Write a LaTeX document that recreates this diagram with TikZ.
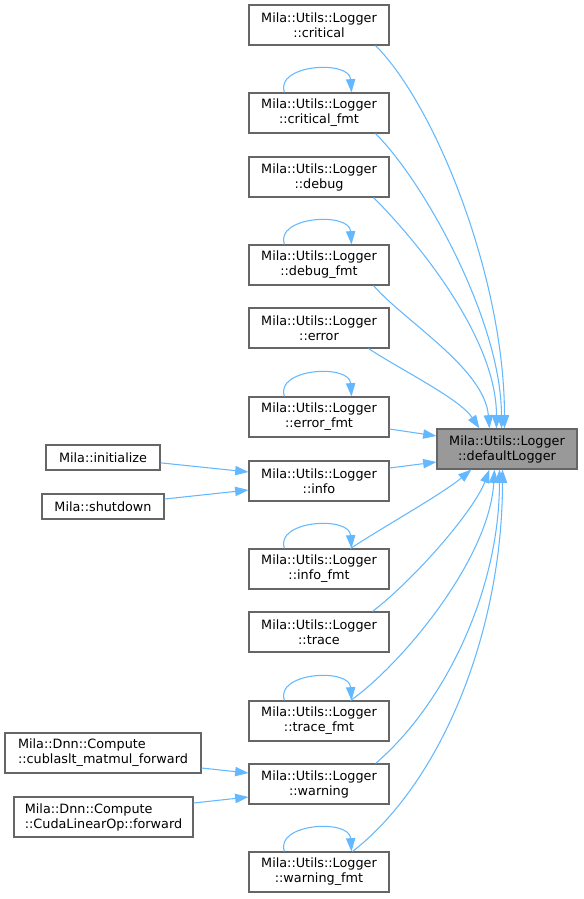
\documentclass[tikz,border=0pt]{standalone}
\usepackage{fontspec}
\setmainfont{DejaVu Sans}
\usetikzlibrary{arrows.meta}
\definecolor{edgeblue}{HTML}{63B8FF}
\definecolor{nodeborder}{HTML}{666666}
\definecolor{hlfill}{HTML}{999999}
\begin{document}
\begin{tikzpicture}[x=0.75pt,y=-0.75pt,
  box/.style={draw=nodeborder, fill=white, line width=0.8pt, inner sep=0pt, align=center,
    font=\fontsize{9.6}{11.25}\selectfont, text=black, minimum width=105pt, minimum height=30pt},
  hlbox/.style={box, fill=hlfill},
  leftbox/.style={box, align=left, minimum height=30pt},
  onebox/.style={box, minimum height=18.75pt},
  edge/.style={draw=edgeblue, line width=0.8pt, -{Triangle[length=10pt,width=7pt]}},
  selfloop/.style={edge}
]
\useasboundingbox (0,0) rectangle (583,899);

% right column
\node[box] (crit)   at (319,25)  {Mila::Utils::Logger\\::critical};
\node[box] (critf)  at (319,113) {Mila::Utils::Logger\\::critical\_fmt};
\node[box] (debug)  at (319,177) {Mila::Utils::Logger\\::debug};
\node[box] (debugf) at (319,265) {Mila::Utils::Logger\\::debug\_fmt};
\node[box] (err)    at (319,328) {Mila::Utils::Logger\\::error};
\node[box] (errf)   at (319,417) {Mila::Utils::Logger\\::error\_fmt};
\node[box] (info)   at (319,481) {Mila::Utils::Logger\\::info};
\node[box] (infof)  at (319,569) {Mila::Utils::Logger\\::info\_fmt};
\node[box] (trace)  at (319,632) {Mila::Utils::Logger\\::trace};
\node[box] (tracef) at (319,721) {Mila::Utils::Logger\\::trace\_fmt};
\node[box] (warn)   at (319,784) {Mila::Utils::Logger\\::warning};
\node[box] (warnf)  at (319,872) {Mila::Utils::Logger\\::warning\_fmt};

% target
\node[hlbox] (dl) at (507,449) {Mila::Utils::Logger\\::defaultLogger};

% left column
\node[onebox, minimum width=85.5pt] (init) at (103,457.5) {Mila::initialize};
\node[onebox, minimum width=91.5pt] (shut) at (103,506.5) {Mila::shutdown};
\node[leftbox, minimum width=147pt] (cubl) at (103,753) {Mila::Dnn::Compute\\::cublaslt\_matmul\_forward};
\node[leftbox, minimum width=134.25pt] (cuda) at (103.5,817) {Mila::Dnn::Compute\\::CudaLinearOp::forward};

% left edges
\draw[edge] ([yshift=-4pt]init.east) -- ([yshift=6.75pt]info.west);
\draw[edge] ([yshift=5.6pt]shut.east) -- ([yshift=-6.75pt]info.west);
\draw[edge] ([yshift=-11.25pt]cubl.east) -- ([yshift=8.25pt]warn.west);
\draw[edge] ([yshift=10.5pt]cuda.east) -- ([yshift=-9.75pt]warn.west);

% straight-ish edges to target
\draw[edge] ([yshift=-9pt]errf.east) -- ([yshift=9.75pt]dl.west);
\draw[edge] ([yshift=9.75pt]info.east) -- ([yshift=-9.75pt]dl.west);

% curved edges from above
\draw[edge] ([xshift=-10.5pt]crit.south east) .. controls +(60,60) and +(0,-150) .. ([xshift=51pt]dl.north west);
\draw[edge] ([xshift=-10.5pt]critf.south east) .. controls +(50,50) and +(0,-106) .. ([xshift=48.75pt]dl.north west);
\draw[edge] ([xshift=-12pt]debug.south east) .. controls +(45,45) and +(0,-90) .. ([xshift=45pt]dl.north west);
\draw[edge] ([xshift=-12pt]debugf.south east) .. controls +(30,35) and +(-5,-60) .. ([xshift=39.75pt]dl.north west);
\draw[edge] ([xshift=-15.75pt]err.south east) .. controls +(30,20) and +(-20,-30) .. ([xshift=32.25pt]dl.north west);

% curved edges from below
\draw[edge] ([xshift=-29.25pt]infof.north east) .. controls +(30,-20) and +(-30,25) .. ([xshift=26.25pt]dl.south west);
\draw[edge] ([xshift=-12.75pt]trace.north east) .. controls +(45,-35) and +(-15,40) .. ([xshift=39.75pt]dl.south west);
\draw[edge] ([xshift=-29.25pt]tracef.north east) .. controls +(50,-35) and +(-5,90) .. ([xshift=43.5pt]dl.south west);
\draw[edge] ([xshift=-10.5pt]warn.north east) .. controls +(70,-60) and +(0,120) .. ([xshift=47.25pt]dl.south west);
\draw[edge] ([xshift=-27.75pt]warnf.north east) .. controls +(90,-70) and +(0,160) .. ([xshift=49.5pt]dl.south west);

% self loops
\foreach \n in {critf,debugf,errf,infof,tracef,warnf}{
  \draw[selfloop] ([xshift=27pt]\n.north west) .. controls +(-10,-28) and +(-2,-33) .. ([xshift=77.25pt]\n.north west);
}
\end{tikzpicture}
\end{document}
